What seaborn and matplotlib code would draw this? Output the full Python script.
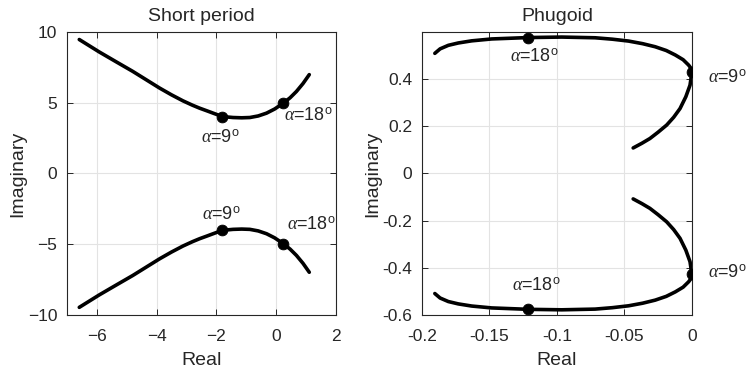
import numpy as np
import pandas as pd
import seaborn as sns
import matplotlib.pyplot as plt

sns.set_style("whitegrid")
plt.rcParams['font.family'] = ['Liberation Sans', 'DejaVu Sans']
plt.rcParams['mathtext.fontset'] = 'custom'
plt.rcParams['mathtext.it'] = 'Liberation Serif:italic'
plt.rcParams['mathtext.rm'] = 'Liberation Sans'

# short period root locus, upper branch (lower branch is its mirror)
sp_real = [-6.59, -5.92, -5.35, -4.80, -4.35, -3.90, -3.50, -3.12, -2.80, -2.56, -2.30, -2.11,
           -1.80, -1.44, -1.15, -0.88, -0.60, -0.32, -0.05, 0.24, 0.47, 0.68, 0.90, 1.11]
sp_imag = [9.46, 8.58, 7.88, 7.21, 6.62, 6.03, 5.55, 5.13, 4.82, 4.61, 4.41, 4.26,
           4.02, 3.95, 3.93, 3.95, 4.06, 4.26, 4.55, 4.96, 5.35, 5.79, 6.35, 6.98]
sp_mark_real = [-1.80, 0.22]
sp_mark_imag = [4.02, 4.95]

# phugoid root locus, upper branch
ph_real = [-0.0435, -0.0370, -0.0311, -0.0250, -0.0187, -0.0135, -0.0088, -0.0045, -0.0014,
           0.0, -0.0006, -0.0024, -0.0065, -0.0123, -0.0190, -0.0272, -0.0365,
           -0.0469, -0.0590, -0.0717, -0.0964, -0.121, -0.1483, -0.1631, -0.1730,
           -0.1804, -0.1865, -0.1904]
ph_imag = [0.108, 0.128, 0.148, 0.175, 0.205, 0.238, 0.275, 0.325, 0.374,
           0.428, 0.445, 0.459, 0.482, 0.502, 0.521, 0.537, 0.550,
           0.561, 0.569, 0.575, 0.578, 0.576, 0.570, 0.562, 0.553,
           0.543, 0.528, 0.509]
ph_mark_real = [0.0, -0.1216]
ph_mark_imag = [0.428, 0.576]


def branch(re, im, sign):
    return pd.DataFrame({'Real': re, 'Imaginary': [sign * v for v in im]})


fig = plt.figure(figsize=(7.48, 3.75), dpi=100)
ax1 = fig.add_axes([0.0896, 0.16, 0.3594, 0.755])
ax2 = fig.add_axes([0.564, 0.16, 0.361, 0.755])

for ax, re, im, mre, mim in [(ax1, sp_real, sp_imag, sp_mark_real, sp_mark_imag),
                             (ax2, ph_real, ph_imag, ph_mark_real, ph_mark_imag)]:
    for s in (1, -1):
        sns.lineplot(data=branch(re, im, s), x='Real', y='Imaginary', sort=False,
                     estimator=None, color='black', lw=2.6, ax=ax)
        sns.scatterplot(data=branch(mre, mim, s), x='Real', y='Imaginary',
                        color='black', s=60, edgecolor='black', zorder=5, ax=ax)

lab9 = r'$\alpha$=9$^{\rm o}$'
lab18 = r'$\alpha$=18$^{\rm o}$'
tk = dict(fontsize=13, color='#262626', va='baseline', ha='left')

ax1.set_xlim(-7, 2)
ax1.set_ylim(-10, 10)
ax1.set_xticks([-6, -4, -2, 0, 2])
ax1.set_yticks([-10, -5, 0, 5, 10])
ax1.set_title('Short period', fontsize=14, pad=8)
ax1.text(-2.5, 2.18, lab9, **tk)
ax1.text(0.28, 3.69, lab18, **tk)
ax1.text(-2.47, -3.28, lab9, **tk)
ax1.text(0.35, -3.99, lab18, **tk)

ax2.set_xlim(-0.2, 0)
ax2.set_ylim(-0.6, 0.6)
ax2.set_xticks([-0.2, -0.15, -0.1, -0.05, 0])
ax2.set_xticklabels(['-0.2', '-0.15', '-0.1', '-0.05', '0'])
ax2.set_yticks([-0.6, -0.4, -0.2, 0, 0.2, 0.4])
ax2.set_yticklabels(['-0.6', '-0.4', '-0.2', '0', '0.2', '0.4'])
ax2.set_title('Phugoid', fontsize=14, pad=8)
ax2.text(-0.1344, 0.472, lab18, **tk)
ax2.text(0.0122, 0.385, lab9, **tk)
ax2.text(0.0122, -0.442, lab9, **tk)
ax2.text(-0.1332, -0.499, lab18, **tk)

for ax in (ax1, ax2):
    ax.set_xlabel('Real', fontsize=14, color='#262626', labelpad=6)
    ax.set_ylabel('Imaginary', fontsize=14, color='#262626', labelpad=1)
    ax.grid(True, color='#e3e3e3', lw=0.8)
    ax.tick_params(direction='in', length=4, width=0.7, colors='#262626',
                   labelsize=12.5, top=True, right=True, left=True, bottom=True)
    ax.tick_params(axis='x', pad=10)
    ax.tick_params(axis='y', pad=7)
    for sp in ax.spines.values():
        sp.set_color('#262626')
        sp.set_linewidth(0.8)

fig.savefig('out.png', dpi=100)
